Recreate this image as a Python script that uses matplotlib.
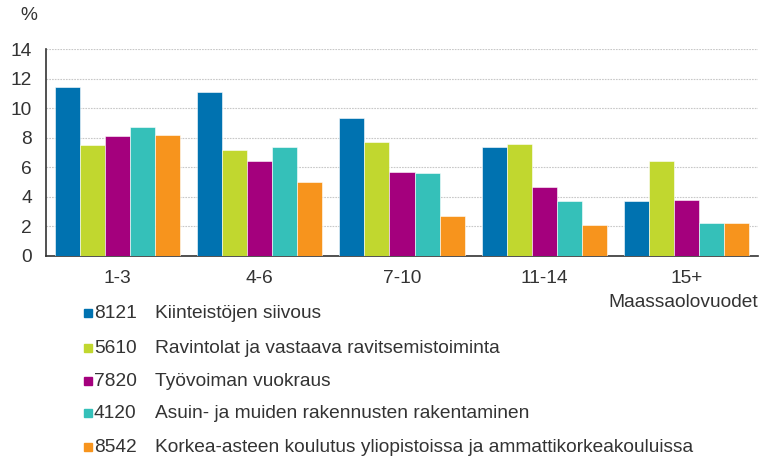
import numpy as np
import matplotlib.pyplot as plt
from matplotlib.patches import Rectangle

plt.rcParams['font.family'] = ['Liberation Sans', 'DejaVu Sans']

categories = ['1-3', '4-6', '7-10', '11-14', '15+']
codes = ['8121', '5610', '7820', '4120', '8542']
names = ['Kiinteistöjen siivous',
         'Ravintolat ja vastaava ravitsemistoiminta',
         'Työvoiman vuokraus',
         'Asuin- ja muiden rakennusten rakentaminen',
         'Korkea-asteen koulutus yliopistoissa ja ammattikorkeakouluissa']
s8121 = [11.4, 11.1, 9.3, 7.4, 3.7]
s5610 = [7.5, 7.2, 7.7, 7.6, 6.4]
s7820 = [8.1, 6.4, 5.7, 4.7, 3.8]
s4120 = [8.7, 7.4, 5.6, 3.7, 2.2]
s8542 = [8.2, 5.0, 2.7, 2.1, 2.2]
series = [s8121, s5610, s7820, s4120, s8542]
colors = ['#0072b0', '#c1d72f', '#a4007d', '#35c0b9', '#f7941d']

fs = 13.8
txt = '#333333'

fig = plt.figure(figsize=(7.66, 4.61), dpi=100)
ax = fig.add_axes([46/766, 1-256/461, 712/766, 207/461])

x = np.arange(len(categories))
w = 0.176
for i, vals in enumerate(series):
    ax.bar(x + (i - 2) * w, vals, width=w, color=colors[i],
           edgecolor='white', linewidth=0.4, zorder=3)

ax.set_xlim(-0.5, 4.5)
ax.set_ylim(0, 14)
ax.set_yticks(range(0, 15, 2))
ax.set_xticks(x)
ax.set_xticklabels(categories)
ax.yaxis.grid(True, color='#c8c8c8', linestyle=(0, (1.5, 1)), linewidth=0.8, zorder=0)
for s in ['top', 'right']:
    ax.spines[s].set_visible(False)
for s in ['left', 'bottom']:
    ax.spines[s].set_color('#333333')
    ax.spines[s].set_linewidth(1.2)
ax.tick_params(length=0, labelsize=fs, colors=txt)
ax.tick_params(axis='x', pad=10)
ax.tick_params(axis='y', pad=10)

fig.text(20/766, 1-15/461, '%', fontsize=fs, color=txt, va='center')
fig.text(758/766, 1-302/461, 'Maassaolovuodet', fontsize=fs, color=txt,
         ha='right', va='center')

# legend
row_y = [313, 348, 381, 413, 447]
for i in range(len(codes)):
    yy = 1 - row_y[i]/461
    fig.patches.append(Rectangle((84/766, yy - 4/461), 8/766, 8/461,
                                 transform=fig.transFigure, color=colors[i]))
    fig.text(94/766, yy, codes[i], fontsize=fs, color=txt, va='center')
    fig.text(155/766, yy, names[i], fontsize=fs, color=txt, va='center')

fig.savefig('out.png', dpi=100)
